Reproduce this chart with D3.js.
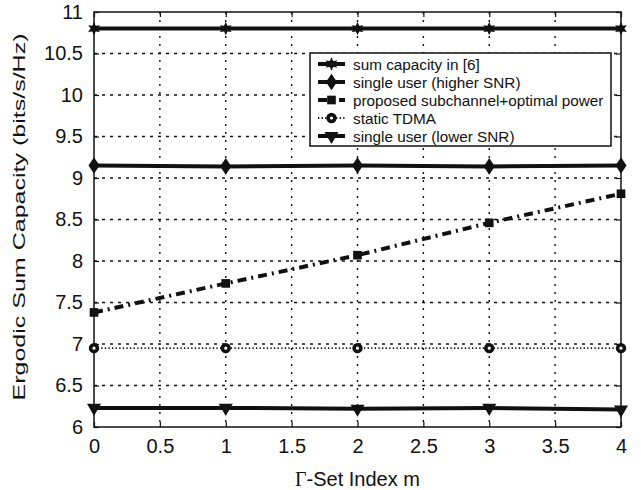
<!DOCTYPE html>
<html><head><meta charset="utf-8">
<script src="https://cdn.jsdelivr.net/npm/d3@7"></script>
<style>body{margin:0;background:#fff}svg{display:block}text{font-family:"Liberation Sans",Arial,sans-serif;fill:#111}</style>
</head><body><div id="c"></div>
<script>
const xValues = [0, 1, 2, 3, 4];
const sumCapacity6 = [10.80, 10.80, 10.80, 10.80, 10.80];
const singleHigher = [9.15, 9.14, 9.15, 9.14, 9.15];
const proposed = [7.38, 7.73, 8.07, 8.46, 8.81];
const staticTDMA = [6.95, 6.95, 6.95, 6.95, 6.95];
const singleLower = [6.23, 6.23, 6.22, 6.23, 6.21];
const xTicks = [0, 0.5, 1, 1.5, 2, 2.5, 3, 3.5, 4];
const yTicks = [6, 6.5, 7, 7.5, 8, 8.5, 9, 9.5, 10, 10.5, 11];
const seriesNames = ["sum capacity in [6]", "single user (higher SNR)", "proposed subchannel+optimal power", "static TDMA", "single user (lower SNR)"];

const W = 641, H = 490;
const m = {l: 94, r: 621, t: 12, b: 427};
const svg = d3.select("#c").append("svg").attr("width", W).attr("height", H);
const x = d3.scaleLinear().domain([0, 4]).range([m.l, m.r]);
const y = d3.scaleLinear().domain([6, 11]).range([m.b, m.t]);

// grid
svg.append("g").selectAll("line").data(xTicks.slice(1, -1)).join("line")
  .attr("x1", d => x(d)).attr("x2", d => x(d)).attr("y1", m.t).attr("y2", m.b)
  .attr("stroke", "#111").attr("stroke-width", 1.4).attr("stroke-dasharray", "2,6");
svg.append("g").selectAll("line").data(yTicks.slice(1, -1)).join("line")
  .attr("y1", d => y(d)).attr("y2", d => y(d)).attr("x1", m.l).attr("x2", m.r)
  .attr("stroke", "#111").attr("stroke-width", 1.4).attr("stroke-dasharray", "3,5");

// axes
const xAxis = d3.axisBottom(x).tickValues(xTicks).tickSize(-5).tickPadding(12).tickFormat(d3.format("~g"));
const yAxis = d3.axisLeft(y).tickValues(yTicks).tickSize(-5).tickPadding(11).tickFormat(d3.format("~g"));
const gx = svg.append("g").attr("transform", `translate(0,${m.b})`).call(xAxis);
const gy = svg.append("g").attr("transform", `translate(${m.l},0)`).call(yAxis);
const gx2 = svg.append("g").attr("transform", `translate(0,${m.t})`).call(d3.axisTop(x).tickValues(xTicks).tickSize(-5).tickFormat(""));
const gy2 = svg.append("g").attr("transform", `translate(${m.r},0)`).call(d3.axisRight(y).tickValues(yTicks).tickSize(-5).tickFormat(""));
[gx, gy, gx2, gy2].forEach(g => {
  g.select(".domain").remove();
  g.selectAll("line").attr("stroke", "#111").attr("stroke-width", 1.2);
  g.selectAll("text").style("font-size", "20px").attr("fill", "#111");
});
svg.append("rect").attr("x", m.l).attr("y", m.t).attr("width", m.r - m.l).attr("height", m.b - m.t)
  .attr("fill", "none").attr("stroke", "#111").attr("stroke-width", 1.5);

// labels
svg.append("text").attr("x", (m.l + m.r) / 2).attr("y", 486).attr("text-anchor", "middle").style("font-size", "20px")
  .html('<tspan style="font-family:\'Liberation Serif\',serif">Γ</tspan>-Set Index m');
svg.append("text").attr("transform", `translate(25,217) rotate(-90)`).attr("text-anchor", "middle")
  .attr("textLength", 367).attr("lengthAdjust", "spacingAndGlyphs")
  .style("font-size", "17px").text("Ergodic Sum Capacity (bits/s/Hz)");

// hexagram symbol
const hexagram = {
  draw(ctx, size) {
    const R = Math.sqrt(size / 1.2), r = R * 0.5;
    for (let k = 0; k < 12; k++) {
      const a = -Math.PI / 2 + k * Math.PI / 6, rr = k % 2 ? r : R;
      const px = rr * Math.cos(a), py = rr * Math.sin(a);
      k ? ctx.lineTo(px, py) : ctx.moveTo(px, py);
    }
    ctx.closePath();
  }
};

// series
const styles = [
  {data: sumCapacity6, dash: null, w: 4, marker: "star"},
  {data: singleHigher, dash: null, w: 4, marker: "diamond"},
  {data: proposed, dash: "9,5,2,5", w: 4, marker: "square"},
  {data: staticTDMA, dash: "1.3,2.3", w: 1.8, marker: "circle"},
  {data: singleLower, dash: null, w: 4, marker: "triangle"}
];
const line = d3.line().x((d, i) => x(xValues[i])).y(d => y(d));
function drawMarker(g, type, cx, cy) {
  if (type === "circle") {
    g.append("circle").attr("cx", cx).attr("cy", cy).attr("r", 3.4).attr("fill", "#fff").attr("stroke", "#111").attr("stroke-width", 3.6);
    return;
  }
  const sym = {star: hexagram, diamond: d3.symbolDiamond, square: d3.symbolSquare, triangle: d3.symbolTriangle}[type];
  const size = {star: 55, diamond: 80, square: 75, triangle: 85}[type];
  let tr = `translate(${cx},${cy})`;
  if (type === "triangle") tr += " rotate(180)";
  if (type === "diamond") tr += " scale(1.15,1)";
  g.append("path").attr("d", d3.symbol().type(sym).size(size)()).attr("transform", tr).attr("fill", "#111");
}
styles.forEach(s => {
  const g = svg.append("g");
  g.append("path").datum(s.data).attr("d", line).attr("fill", "none").attr("stroke", "#111")
    .attr("stroke-width", s.w).attr("stroke-dasharray", s.dash);
  s.data.forEach((v, i) => drawMarker(g, s.marker, x(xValues[i]), y(v)));
});

// legend
const lg = svg.append("g");
lg.append("rect").attr("x", 310).attr("y", 53).attr("width", 301).attr("height", 93).attr("fill", "#fff").attr("stroke", "#111").attr("stroke-width", 1.5);
styles.forEach((s, i) => {
  const yy = 64 + i * 18;
  lg.append("line").attr("x1", 318).attr("x2", 345).attr("y1", yy).attr("y2", yy).attr("stroke", "#111")
    .attr("stroke-width", s.w).attr("stroke-dasharray", s.dash);
  drawMarker(lg, s.marker, 331.5, yy);
  lg.append("text").attr("x", 353).attr("y", yy + 5.5).style("font-size", "15.3px").text(seriesNames[i]);
});
</script></body></html>
